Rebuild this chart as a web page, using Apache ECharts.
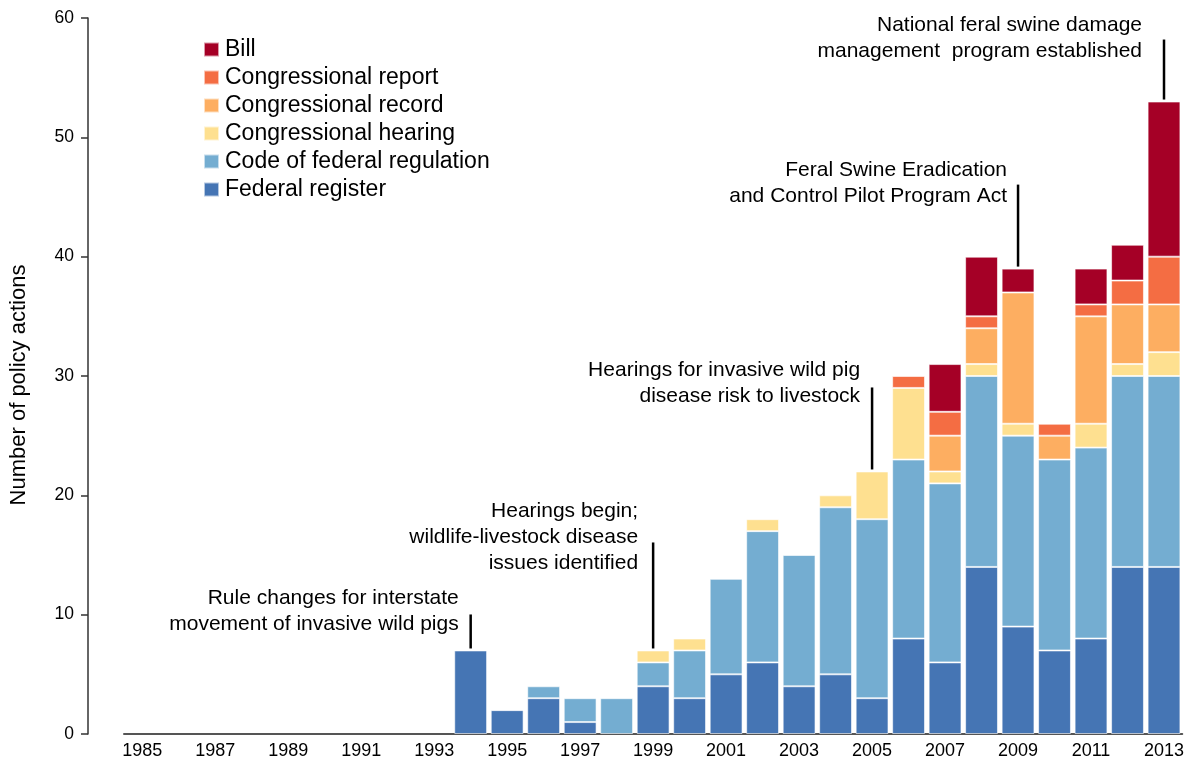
<!DOCTYPE html>
<html>
<head>
<meta charset="utf-8">
<script src="https://cdn.jsdelivr.net/npm/echarts@6/dist/echarts.min.js"></script>
<style>
  html, body { margin: 0; padding: 0; background: #fff; }
  #chart { width: 1187px; height: 763px; }
</style>
</head>
<body>
<div id="chart"></div>
<script>
// categories 1985..2013
const years = [
  "1985", "1986", "1987", "1988", "1989", "1990", "1991", "1992", "1993", "1994",
  "1995", "1996", "1997", "1998", "1999", "2000", "2001", "2002", "2003", "2004",
  "2005", "2006", "2007", "2008", "2009", "2010", "2011", "2012", "2013"
];

// stacked from the bottom up
const federalRegister = [0, 0, 0, 0, 0, 0, 0, 0, 0, 7, 2, 3, 1, 0, 4, 3, 5, 6, 4, 5, 3, 8, 6, 14, 9, 7, 8, 14, 14];
const codeFedReg      = [0, 0, 0, 0, 0, 0, 0, 0, 0, 0, 0, 1, 2, 3, 2, 4, 8, 11, 11, 14, 15, 15, 15, 16, 16, 16, 16, 16, 16];
const congHearing     = [0, 0, 0, 0, 0, 0, 0, 0, 0, 0, 0, 0, 0, 0, 1, 1, 0, 1, 0, 1, 4, 6, 1, 1, 1, 0, 2, 1, 2];
const congRecord      = [0, 0, 0, 0, 0, 0, 0, 0, 0, 0, 0, 0, 0, 0, 0, 0, 0, 0, 0, 0, 0, 0, 3, 3, 11, 2, 9, 5, 4];
const congReport      = [0, 0, 0, 0, 0, 0, 0, 0, 0, 0, 0, 0, 0, 0, 0, 0, 0, 0, 0, 0, 0, 1, 2, 1, 0, 1, 1, 2, 4];
const bill            = [0, 0, 0, 0, 0, 0, 0, 0, 0, 0, 0, 0, 0, 0, 0, 0, 0, 0, 0, 0, 0, 0, 4, 5, 2, 0, 3, 3, 13];

const yTicks = { min: 0, max: 60, interval: 10 };

// annotations
const noteYears = ["1994", "1999", "2005", "2009", "2013"];
const noteTexts = [
  "Rule changes for interstate\nmovement of invasive wild pigs",
  "Hearings begin;\nwildlife-livestock disease\nissues identified",
  "Hearings for invasive wild pig\ndisease risk to livestock",
  "Feral Swine Eradication\nand Control Pilot Program Act",
  "National feral swine damage\nmanagement  program established"
];
// layout of the annotations: stem length, text lift above bar, text gap left of stem
const noteLayout = [
  { stem: 34, lift: 13, dx: 12 },
  { stem: 106, lift: 74, dx: 15 },
  { stem: 82, lift: 62, dx: 12 },
  { stem: 82, lift: 59, dx: 11 },
  { stem: 60, lift: 37, dx: 22 }
];

const FONT = '"Liberation Sans", Arial, Helvetica, sans-serif';

const seriesDefs = [
  { name: "Federal register", data: federalRegister, color: "#4575B4" },
  { name: "Code of federal regulation", data: codeFedReg, color: "#74ADD1" },
  { name: "Congressional hearing", data: congHearing, color: "#FEE090" },
  { name: "Congressional record", data: congRecord, color: "#FDAE61" },
  { name: "Congressional report", data: congReport, color: "#F46D43" },
  { name: "Bill", data: bill, color: "#A50026" }
];

const chart = echarts.init(document.getElementById("chart"));

chart.setOption({
  animation: false,
  grid: { left: 123, right: 4, top: 18, bottom: 29, containLabel: false },
  legend: {
    orient: "vertical",
    left: 198,
    top: 33,
    itemWidth: 15,
    itemHeight: 14,
    itemGap: 5,
    icon: "rect",
    data: ["Bill", "Congressional report", "Congressional record",
           "Congressional hearing", "Code of federal regulation", "Federal register"],
    textStyle: { fontFamily: FONT, fontSize: 23, color: "#000", lineHeight: 23, padding: [0, 0, 0, 1] }
  },
  xAxis: {
    type: "category",
    data: years,
    axisLine: { lineStyle: { color: "#555", width: 2 } },
    axisTick: { show: false },
    axisLabel: { interval: 1, color: "#000", fontFamily: FONT, fontSize: 18, margin: 8 }
  },
  yAxis: {
    type: "value",
    min: yTicks.min,
    max: yTicks.max,
    interval: yTicks.interval,
    offset: 36,
    name: "Number of policy actions",
    nameLocation: "middle",
    nameGap: 58,
    nameTextStyle: { fontFamily: FONT, fontSize: 22, color: "#000", padding: [0, 18, 0, 0] },
    axisLine: { show: true, lineStyle: { color: "#333", width: 1.5 } },
    axisTick: { show: true, length: 7, lineStyle: { color: "#333", width: 1.5 } },
    axisLabel: { color: "#000", fontFamily: FONT, fontSize: 17.5, margin: 14 },
    splitLine: { show: false }
  },
  series: seriesDefs.map((s) => ({
    name: s.name,
    type: "bar",
    stack: "total",
    barCategoryGap: "10%",
    // empty segments are left out so they draw no sliver on the axis
    data: s.data.map((v) => (v === 0 ? "-" : v)),
    itemStyle: { color: s.color, borderColor: "rgba(255,255,255,0.6)", borderWidth: 1 }
  }))
});

// place annotation stems and texts from the data scale
const totals = years.map((_, i) => seriesDefs.reduce((sum, s) => sum + s.data[i], 0));
const graphics = [];
noteYears.forEach((yr, k) => {
  const idx = years.indexOf(yr);
  const [x, top] = chart.convertToPixel({ gridIndex: 0 }, [yr, totals[idx]]);
  const lay = noteLayout[k];
  graphics.push({
    type: "line",
    shape: { x1: x, y1: top - 2, x2: x, y2: top - 2 - lay.stem },
    style: { stroke: "#000", lineWidth: 2.5 }
  });
  graphics.push({
    type: "text",
    x: x - lay.dx,
    y: top - lay.lift,
    style: {
      text: noteTexts[k],
      align: "right",
      verticalAlign: "bottom",
      fontFamily: FONT,
      fontSize: 21,
      lineHeight: 26,
      fill: "#000"
    }
  });
});
chart.setOption({ graphic: graphics });
</script>
</body>
</html>
